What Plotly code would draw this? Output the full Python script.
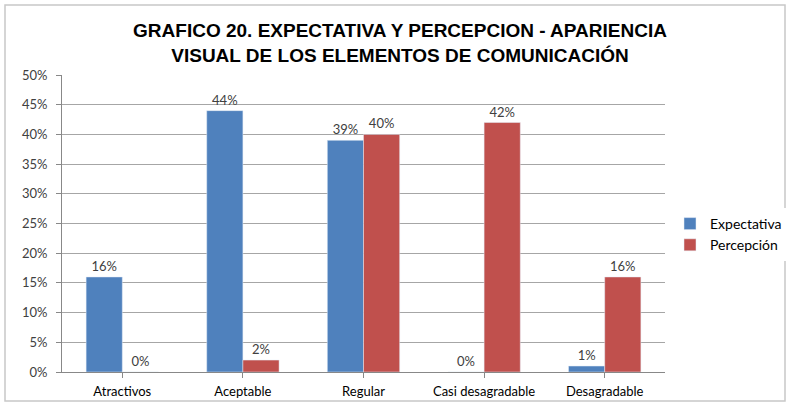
import plotly.graph_objects as go

categories = ["Atractivos", "Aceptable", "Regular", "Casi desagradable", "Desagradable"]
expectativa = [0.16, 0.44, 0.39, 0.00, 0.01]
percepcion = [0.00, 0.02, 0.40, 0.42, 0.16]
y_ticks = [0, 0.05, 0.10, 0.15, 0.20, 0.25, 0.30, 0.35, 0.40, 0.45, 0.50]

label_font = dict(family="Lato, Open Sans, sans-serif", size=13, color="#404040")

fig = go.Figure()
fig.add_trace(go.Bar(
    x=categories, y=expectativa, name="Expectativa",
    marker=dict(color="#4F81BD"),
    text=[f"{v*100:.0f}%" for v in expectativa], textposition="outside",
    textfont=label_font, cliponaxis=False,
))
fig.add_trace(go.Bar(
    x=categories, y=percepcion, name="Percepción",
    marker=dict(color="#C0504D"),
    text=[f"{v*100:.0f}%" for v in percepcion], textposition="outside",
    textfont=label_font, cliponaxis=False,
))

W, H = 787, 404
l, r, t, b = 62, 122, 75, 32
pw, ph = W - l - r, H - t - b

def px(x):
    return (x - l) / pw

def py(y):
    return (H - b - y) / ph

fig.update_layout(
    width=W, height=H,
    margin=dict(l=l, r=r, t=t, b=b, autoexpand=False),
    paper_bgcolor="white", plot_bgcolor="white",
    barmode="group", bargap=0.4, bargroupgap=0,
    title=dict(
        text="<b>GRAFICO 20. EXPECTATIVA Y PERCEPCION - APARIENCIA<br>VISUAL DE LOS ELEMENTOS DE COMUNICACIÓN</b>",
        xref="container", yref="container",
        x=400 / W, xanchor="center", y=1 - 37 / H, yanchor="middle",
        font=dict(family="Liberation Sans, Arial, sans-serif", size=19, color="#000000"),
    ),
    legend=dict(
        x=px(670), y=py(208), xanchor="left", yanchor="top",
        font=dict(family="Lato, Open Sans, sans-serif", size=14, color="#000000"),
        itemwidth=30, tracegroupgap=5,
    ),
    xaxis=dict(
        showline=True, linecolor="#888888", linewidth=1,
        ticks="outside", ticklen=5, tickcolor="#888888",
        ticklabelstandoff=2, automargin=False,
        tickfont=dict(family="Lato, Open Sans, sans-serif", size=13, color="#000000"),
    ),
    yaxis=dict(
        range=[0, 0.5], tickvals=y_ticks, tickformat=".0%",
        showgrid=True, gridcolor="#A6A6A6", gridwidth=1,
        showline=True, linecolor="#888888", linewidth=1,
        ticks="outside", ticklen=5, tickcolor="#888888",
        ticklabelstandoff=6, automargin=False,
        tickfont=dict(family="Lato, Open Sans, sans-serif", size=13, color="#404040"),
        zeroline=False,
    ),
    shapes=[dict(
        type="rect", xref="paper", yref="paper",
        x0=px(5), x1=px(785), y0=py(401), y1=py(5),
        line=dict(color="#C8C8C8", width=1.5), fillcolor="rgba(0,0,0,0)", layer="below",
    )],
)

fig.write_html("out.html")
